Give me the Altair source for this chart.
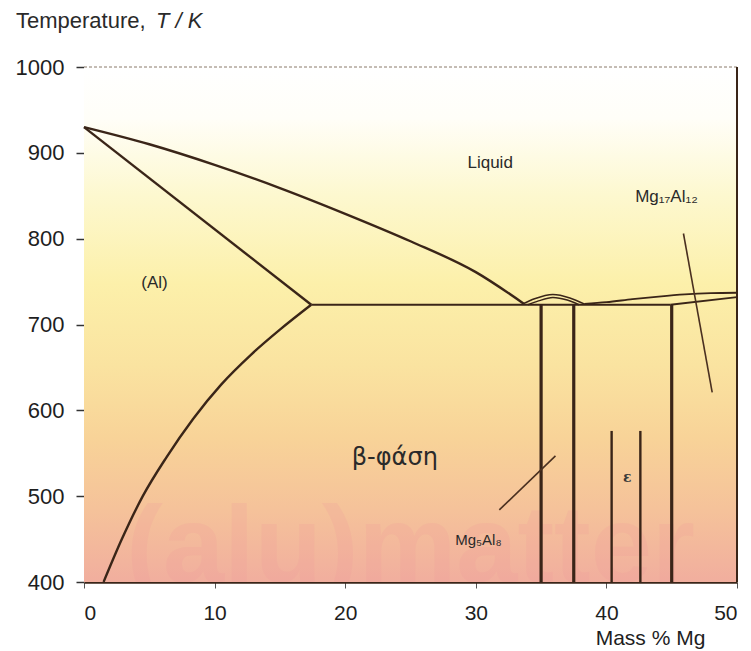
import altair as alt
import pandas as pd

# Axis ticks
mass_ticks = [0, 10, 20, 30, 40, 50]
temp_ticks = [400, 500, 600, 700, 800, 900, 1000]

# Phase boundaries, Mass % Mg vs T / K
liquidus_al_x = [0, 5, 10, 15, 20, 25, 30, 33.7]
liquidus_al_y = [930, 910, 886, 859, 829, 797, 761, 724]

solidus_al_x = [0, 17.4]
solidus_al_y = [930, 723]

solvus_x = [1.5, 2.9, 4.5, 6.3, 8.35, 10.5, 12.8, 15.0, 17.4]
solvus_y = [400, 450, 500, 545, 590, 630, 665, 694, 723]

eutectic_x = [17.4, 44.9]
eutectic_y = [723, 723]

beta_outer_x = [33.6, 34.5, 35.9, 37.2, 38.3]
beta_outer_y = [724, 730, 735, 731, 724]
beta_inner_x = [34.0, 34.8, 35.9, 37.0, 37.9]
beta_inner_y = [723, 727.5, 731.5, 728.5, 723]

liquidus_mg_x = [38.3, 40, 42, 44, 46, 48, 50]
liquidus_mg_y = [724, 726, 729.5, 732.5, 735, 736.5, 737]

solidus_mg_x = [44.9, 50]
solidus_mg_y = [723, 732]

# Single-phase boundaries drawn as verticals
phase_x = [35.0, 37.5, 45.0]
phase_top = [724, 724, 723]
eps_x = [40.4, 42.6]
eps_top = [576, 576]

# Leader lines for the compound labels
leader_x = [45.9, 48.1, 31.8, 36.1]
leader_y = [806, 621, 484, 547]
leader_id = ["mg17", "mg17", "mg5", "mg5"]

# Region labels
label_text = ["Liquid", "Mg₁₇Al₁₂", "(Al)", "Mg₅Al₈"]
label_x = [31.1, 44.6, 5.4, 30.2]
label_y = [888, 849, 748, 449]
label_size = [17, 17, 17, 15]

INK = "#3a2518"
W, H = 653, 515

xs = alt.Scale(domain=[0, 50], nice=False, zero=False)
ys = alt.Scale(domain=[400, 1000], nice=False, zero=False)


def curve(name, xv, yv, width):
    return pd.DataFrame({"x": xv, "y": yv, "seg": name,
                         "o": list(range(len(xv))), "w": width})


curves = pd.concat([
    curve("liq_al", liquidus_al_x, liquidus_al_y, 2.4),
    curve("sol_al", solidus_al_x, solidus_al_y, 2.4),
    curve("solvus", solvus_x, solvus_y, 2.4),
    curve("eut", eutectic_x, eutectic_y, 2.2),
    curve("b_out", beta_outer_x, beta_outer_y, 1.6),
    curve("b_in", beta_inner_x, beta_inner_y, 1.4),
    curve("liq_mg", liquidus_mg_x, liquidus_mg_y, 1.8),
    curve("sol_mg", solidus_mg_x, solidus_mg_y, 1.8),
])

x_axis = alt.Axis(values=mass_ticks, grid=False, labelFontSize=21,
                  labelFont="Liberation Sans", labelColor="#1e1e1e",
                  labelPadding=14, tickSize=6, tickColor="#555555",
                  domainColor=INK, domainWidth=2.6, format="d",
                  title="Mass % Mg", titleFont="Liberation Sans",
                  titleFontSize=21, titleFontWeight="normal",
                  titleColor="#1e1e1e", titleX=566, titleY=62,
                  titleAlign="center", titleBaseline="alphabetic",
                  titleAnchor="start")
y_axis = alt.Axis(values=temp_ticks, grid=False, labelFontSize=22,
                  labelFont="Liberation Sans", labelColor="#1e1e1e",
                  labelPadding=12, tickSize=8, tickColor="#333333",
                  tickWidth=1.5, domainColor="#8a7a6a", domainWidth=1,
                  domainDash=[3, 2], format="d", title=None)

frame_df = pd.DataFrame({"x0": [0], "x1": [50], "y0": [400], "y1": [1000]})

bg = alt.Chart(frame_df).mark_rect(
    fill=alt.Gradient(
        gradient="linear", x1=0, y1=0, x2=0, y2=1,
        stops=[
            alt.GradientStop(offset=0.0, color="#ffffff"),
            alt.GradientStop(offset=0.1, color="#fffef8"),
            alt.GradientStop(offset=0.25, color="#fdf8cf"),
            alt.GradientStop(offset=0.42, color="#fcf0aa"),
            alt.GradientStop(offset=0.58, color="#fae3a0"),
            alt.GradientStop(offset=0.72, color="#f8d398"),
            alt.GradientStop(offset=0.86, color="#f5c29a"),
            alt.GradientStop(offset=1.0, color="#f1ae9e"),
        ],
    )
).encode(
    x=alt.X("x0:Q", scale=xs, axis=x_axis),
    x2="x1:Q",
    y=alt.Y("y0:Q", scale=ys, axis=y_axis),
    y2="y1:Q",
)

# faint watermark across the lower part of the plot
watermark = alt.Chart(pd.DataFrame({"x": [25], "y": [400], "t": ["(alu)matter"]})).mark_text(
    font="Liberation Sans", fontWeight="bold", fontSize=110, color="#f09a9a",
    opacity=0.2, align="center", baseline="alphabetic", clip=True
).encode(x=alt.X("x:Q", scale=xs), y=alt.Y("y:Q", scale=ys), text="t:N")

top_border = alt.Chart(frame_df).mark_rule(
    color="#8a7a6a", strokeWidth=1, strokeDash=[3, 2]
).encode(x=alt.X("x0:Q", scale=xs), x2="x1:Q", y=alt.Y("y1:Q", scale=ys))

right_border = alt.Chart(frame_df).mark_rule(
    color=INK, strokeWidth=2
).encode(x=alt.X("x1:Q", scale=xs), y=alt.Y("y0:Q", scale=ys), y2="y1:Q")

lines = alt.Chart(curves).mark_line(color=INK, interpolate="monotone").encode(
    x=alt.X("x:Q", scale=xs),
    y=alt.Y("y:Q", scale=ys),
    detail="seg:N",
    order="o:Q",
    strokeWidth=alt.StrokeWidth("w:Q", scale=None),
)

verticals = alt.Chart(pd.DataFrame({
    "x": phase_x + eps_x,
    "top": phase_top + eps_top,
    "bot": [400] * (len(phase_x) + len(eps_x)),
    "w": [3.2] * len(phase_x) + [2.4] * len(eps_x),
})).mark_rule(color=INK).encode(
    x=alt.X("x:Q", scale=xs),
    y=alt.Y("top:Q", scale=ys),
    y2="bot:Q",
    strokeWidth=alt.StrokeWidth("w:Q", scale=None),
)

leaders = alt.Chart(pd.DataFrame({"x": leader_x, "y": leader_y, "id": leader_id})).mark_line(
    color="#4a3020", strokeWidth=1.6
).encode(x=alt.X("x:Q", scale=xs), y=alt.Y("y:Q", scale=ys), detail="id:N")

labels = alt.Chart(pd.DataFrame({
    "x": label_x, "y": label_y, "t": label_text, "s": label_size
})).mark_text(font="Liberation Sans", color="#2a2a2a", align="center", baseline="middle").encode(
    x=alt.X("x:Q", scale=xs), y=alt.Y("y:Q", scale=ys), text="t:N",
    size=alt.Size("s:Q", scale=None),
)

beta_label = alt.Chart(pd.DataFrame({"x": [23.8], "y": [545], "t": ["β-φάση"]})).mark_text(
    font="DejaVu Sans", fontSize=24, color="#2a2a2a", align="center", baseline="middle"
).encode(x=alt.X("x:Q", scale=xs), y=alt.Y("y:Q", scale=ys), text="t:N")

eps_label = alt.Chart(pd.DataFrame({"x": [41.6], "y": [521], "t": ["ε"]})).mark_text(
    font="DejaVu Serif", fontSize=14, fontWeight="bold", color="#3a3a3a",
    align="center", baseline="middle"
).encode(x=alt.X("x:Q", scale=xs), y=alt.Y("y:Q", scale=ys), text="t:N")

title_a = alt.Chart(pd.DataFrame({"t": ["Temperature,"]})).mark_text(
    font="Liberation Sans", fontSize=22, color="#2a2a2a", align="left", baseline="middle"
).encode(x=alt.value(-68), y=alt.value(-46), text="t:N")
title_b = alt.Chart(pd.DataFrame({"t": ["T / K"]})).mark_text(
    font="Liberation Sans", fontSize=22, fontStyle="italic", color="#2a2a2a",
    align="left", baseline="middle"
).encode(x=alt.value(72), y=alt.value(-46), text="t:N")

chart = alt.layer(
    bg, watermark, top_border, right_border, lines, verticals, leaders,
    labels, beta_label, eps_label, title_a, title_b
).properties(
    width=W, height=H,
    padding={"left": 84, "top": 67, "right": 14, "bottom": 69},
    autosize=alt.AutoSizeParams(type="none"),
).configure_view(stroke=None)

chart.save("out.html", embed_options={"renderer": "svg", "actions": False})
